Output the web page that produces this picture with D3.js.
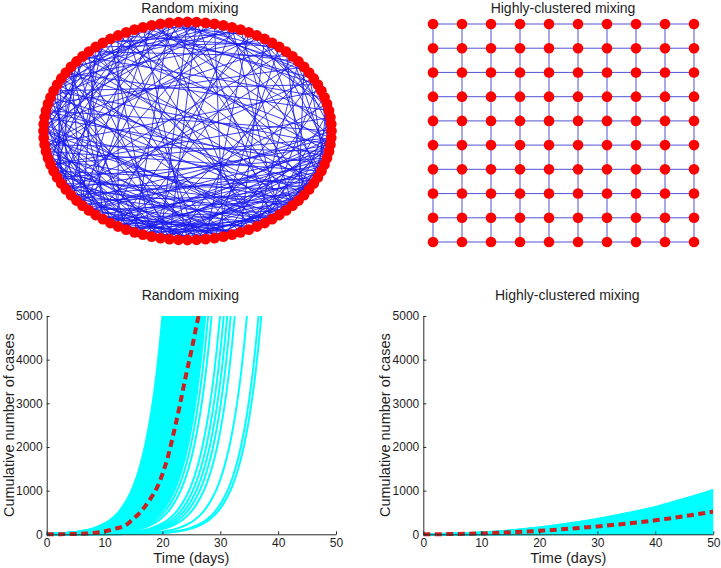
<!DOCTYPE html>
<html><head><meta charset="utf-8">
<script src="https://cdn.jsdelivr.net/npm/d3@7"></script>
<style>
body{margin:0;background:#fff}
svg{display:block}
text{font-family:"Liberation Sans",Arial,Helvetica,sans-serif;fill:#1e1e1e}
</style>
</head><body><svg width="721" height="568"></svg>
<script>
// ---------------- DATA ----------------
const panelTitles = ["Random mixing", "Highly-clustered mixing"];
const xLabel = "Time (days)";
const yLabel = "Cumulative number of cases";
const xTicks = [0, 10, 20, 30, 40, 50];
const yTicks = [0, 1000, 2000, 3000, 4000, 5000];

// random network: 100 nodes on a circle, edge list
const nodeCount = 100;
const randomEdges = [
[0,47],[0,63],[1,29],[1,72],[2,55],[2,88],[3,41],[3,17],[4,66],[4,93],[5,38],[5,79],[6,52],[6,21],[7,84],[7,44],
[8,59],[8,31],[9,70],[9,95],[10,46],[10,27],[11,61],[11,83],[12,37],[12,74],[13,58],[13,90],[14,49],[14,33],[15,68],[15,97],
[16,42],[16,81],[17,64],[17,52],[18,77],[18,35],[19,53],[19,88],[20,71],[20,45],[21,60],[21,94],[22,48],[22,79],[23,66],[23,39],
[24,57],[24,85],[25,72],[25,50],[26,91],[26,43],[27,69],[27,56],[28,82],[28,47],[29,63],[29,98],[30,75],[30,54],[31,87],[31,62],
[32,58],[32,76],[33,92],[33,67],[34,71],[34,49],[35,84],[35,60],[36,78],[36,99],[37,65],[37,86],[38,73],[38,55],[39,90],[39,68],
[40,81],[40,62],[41,76],[41,96],[42,70],[42,57],[43,89],[43,74],[44,83],[44,61],[45,77],[45,93],[46,72],[46,88],[47,80],[47,65],
[48,95],[48,69],[49,84],[49,73],[50,91],[50,78],[51,86],[51,67],[52,97],[52,75],[53,82],[53,94],[54,89],[54,71],[55,99],[55,80],
[56,92],[56,85],[57,88],[57,96],[58,91],[58,79],[59,87],[59,98],[60,93],[60,76],[61,90],[61,99],[62,95],[62,84],[63,89],[63,97],
[64,92],[64,81],[65,94],[65,87],[66,96],[66,83],[67,98],[67,91],[68,93],[68,85],[69,95],[69,99],[70,97],[70,86],[71,92],[72,94],
[73,96],[74,98],[76,99],[78,93],[80,98],[82,99],[84,94],[86,96],[88,98],
[0,12],[1,91],[2,18],[3,84],[4,23],[6,97],[7,30],[8,76],[9,26],[10,89],[11,34],[12,96],[13,27],[14,78],[15,36],[16,93],
[17,29],[18,67],[19,40],[20,86],[21,39],[22,99],[23,44],[24,73],[25,41],[26,62],[27,88],[28,51],[29,44],[30,94],[31,53],[32,83],
[33,50],[34,97],[35,56],[36,62],[37,51],[38,92],[39,57],[40,66],[41,59],[42,87],[43,58],[44,98],[45,64],[46,59],[47,92],[48,60],
[49,66],[50,85],[51,72],[52,63],[53,68],[54,80],[55,73],[56,77],[57,70],[58,84],[59,75],[60,85],[61,79],[62,76],[63,81],[64,78],
[65,83],[66,80],[67,81],[68,89],[69,82],[70,91],[71,85],[72,90],[73,87],[74,88],[75,89],[77,90],[79,92]
];

// clustered network: 10 x 10 lattice
const gridRows = 10;
const gridCols = 10;

// random mixing: shape of a single run, relative to the day it reaches 5000 cases
const runDaysBefore = [-2,-1,0,1,2,3,4,5,6,7,8,9,10,11,12,13,14,15,16,17,18,19,20,21,22,23,24,25,26,27,28,29,30,32,34,36,38];
const runValues     = [9100,6750,5000,3700,2740,2030,1500,1110,825,610,450,335,248,184,136,100,74,55,41,30,22,16,12,9,7,5,4,3,3,2,2,2,1,1,1,1,1];
// day at which each run reaches 5000 cases
const randomCrossDays = [
20.0,20.2,20.3,20.5,20.6,20.8,20.9,21.0,21.2,21.3,21.5,21.6,21.8,22.0,22.1,22.3,22.4,22.6,22.7,22.9,
23.0,23.1,23.3,23.4,23.6,23.7,23.9,24.0,24.1,24.3,24.4,24.6,24.7,24.9,25.0,25.2,25.3,25.5,25.6,25.8,
25.9,26.1,26.2,26.4,26.5,26.7,26.8,27.0,27.2,27.4,27.9,28.5,29.95,30.6,31.2,31.8,32.5,34.6,36.6,37.1
];
// mean of the random-mixing runs
const randomMeanDays   = [0,1,2,3,4,5,6,7,8,9,10,11,12,13,14,15,16,17,18,19,20,21,22,23,24,25,26,27];
const randomMeanValues = [1,2,3,4,6,8,12,18,28,45,70,100,135,170,240,360,480,640,830,1050,1380,1800,2350,2950,3600,4200,4850,5400];

// highly-clustered mixing: mean curve and per-run multipliers of it
const clusterDays = [0,5,10,15,20,25,30,35,40,45,50];
const clusterMeanValues = [1,6,20,45,80,125,180,245,320,415,520];
const clusterRunScales = [
0.02,0.05,0.08,0.10,0.15,0.20,0.22,0.25,0.30,0.33,0.36,0.40,0.43,0.46,0.50,0.52,0.55,0.58,0.60,0.63,
0.66,0.70,0.72,0.75,0.78,0.80,0.83,0.86,0.90,0.92,0.95,0.98,1.00,1.03,1.06,1.10,1.13,1.16,1.20,1.23,
1.27,1.30,1.34,1.38,1.42,1.46,1.50,1.55,1.60,1.65,1.70,1.75,1.80,1.86,1.92,1.96
];

// ---------------- DRAW ----------------
const svg = d3.select("svg");
const EDGE = "#1a1af0", NODE = "#ff0000", CYAN = "#00ffff", MEAN = "#cc1f1f";

// ---- top-left: random network ----
{
  const g = svg.append("g");
  const sx = d3.scaleLinear().domain([-1, 1]).range([43.5, 331.5]);
  const sy = d3.scaleLinear().domain([-1, 1]).range([240, 22]);
  const ang = d3.scaleLinear().domain([0, nodeCount]).range([0, 2 * Math.PI]);
  const pos = d3.range(nodeCount).map(i => [sx(Math.cos(ang(i))), sy(Math.sin(ang(i)))]);
  g.selectAll("line.e").data(randomEdges).join("line")
    .attr("x1", d => pos[d[0]][0]).attr("y1", d => pos[d[0]][1])
    .attr("x2", d => pos[d[1]][0]).attr("y2", d => pos[d[1]][1])
    .attr("stroke", EDGE).attr("stroke-width", 0.85);
  g.selectAll("circle").data(pos).join("circle")
    .attr("cx", d => d[0]).attr("cy", d => d[1]).attr("r", 5.4).attr("fill", NODE);
  g.append("text").attr("x", 190).attr("y", 13).attr("text-anchor", "middle")
    .attr("font-size", 14).text(panelTitles[0]);
}

// ---- top-right: lattice ----
{
  const g = svg.append("g");
  const gx = d3.scaleLinear().domain([0, gridCols - 1]).range([433, 694]);
  const gy = d3.scaleLinear().domain([0, gridRows - 1]).range([24, 242]);
  const cells = [];
  for (let r = 0; r < gridRows; r++) for (let c = 0; c < gridCols; c++) cells.push([r, c]);
  const links = [];
  cells.forEach(([r, c]) => {
    if (c < gridCols - 1) links.push([[r, c], [r, c + 1]]);
    if (r < gridRows - 1) links.push([[r, c], [r + 1, c]]);
  });
  g.selectAll("line").data(links).join("line")
    .attr("x1", d => gx(d[0][1])).attr("y1", d => gy(d[0][0]))
    .attr("x2", d => gx(d[1][1])).attr("y2", d => gy(d[1][0]))
    .attr("stroke", "#3a3ad0").attr("stroke-width", 1.1).attr("stroke-opacity", 0.8);
  g.selectAll("circle").data(cells).join("circle")
    .attr("cx", d => gx(d[1])).attr("cy", d => gy(d[0])).attr("r", 5.3).attr("fill", NODE);
  g.append("text").attr("x", 563).attr("y", 13).attr("text-anchor", "middle")
    .attr("font-size", 14).text(panelTitles[1]);
}

// ---- bottom panels ----
function panel(id, left, right, title, runs, mean, labelX) {
  const top = 316, bottom = 534.3;
  const x = d3.scaleLinear().domain([0, 50]).range([left, right]);
  const y = d3.scaleLinear().domain([0, 5000]).range([bottom, top]);
  const g = svg.append("g");
  g.append("clipPath").attr("id", id).append("rect")
    .attr("x", left).attr("y", top).attr("width", right - left).attr("height", bottom - top + 4);
  const line = d3.line().x(d => x(d[0])).y(d => y(d[1])).curve(d3.curveMonotoneX);
  const pg = g.append("g").attr("clip-path", `url(#${id})`);
  pg.selectAll("path.run").data(runs).join("path").attr("class", "run")
    .attr("d", line).attr("fill", "none").attr("stroke", CYAN).attr("stroke-width", 2);
  pg.append("path").datum(mean).attr("d", line).attr("fill", "none")
    .attr("stroke", MEAN).attr("stroke-width", 4).attr("stroke-dasharray", "7,4.5");

  const fmt = d3.format("d");
  const ax = g.append("g").attr("transform", `translate(0,${bottom})`)
    .call(d3.axisBottom(x).tickValues(xTicks).tickFormat(fmt).tickSizeInner(-3).tickSizeOuter(0).tickPadding(4));
  const ay = g.append("g").attr("transform", `translate(${left},0)`)
    .call(d3.axisLeft(y).tickValues(yTicks).tickFormat(fmt).tickSizeInner(-3).tickSizeOuter(0).tickPadding(4));
  [ax, ay].forEach(a => {
    a.select(".domain").attr("stroke", "#2a2a2a");
    a.selectAll(".tick line").attr("stroke", "#2a2a2a");
    a.selectAll(".tick text").attr("font-size", 12).attr("font-family", '"Liberation Sans",Arial,sans-serif').attr("fill", "#1e1e1e");
  });
  g.append("text").attr("x", (left + right) / 2 - 1).attr("y", 300).attr("text-anchor", "middle")
    .attr("font-size", 14).text(title);
  g.append("text").attr("x", (left + right) / 2).attr("y", 563).attr("text-anchor", "middle")
    .attr("font-size", 14.5).text(xLabel);
  g.append("text").attr("transform", `translate(${labelX},${(top + bottom) / 2}) rotate(-90)`)
    .attr("text-anchor", "middle").attr("font-size", 14.5).text(yLabel);
}

const randomRuns = randomCrossDays.map(T =>
  [[-1, 1]].concat(runDaysBefore.map((d, i) => [T - d, runValues[i]]).reverse().filter(p => p[0] > -1))
);
const randomMean = randomMeanDays.map((d, i) => [d, randomMeanValues[i]]);
panel("clipA", 46.7, 336, panelTitles[0], randomRuns, randomMean, 13.5);

const clusterRuns = clusterRunScales.map(s => clusterDays.map((d, i) => [d, Math.max(1, clusterMeanValues[i] * s)]));
const clusterMean = clusterDays.map((d, i) => [d, clusterMeanValues[i]]);
panel("clipB", 423.3, 713.3, panelTitles[1], clusterRuns, clusterMean, 390);
</script>
</body></html>
